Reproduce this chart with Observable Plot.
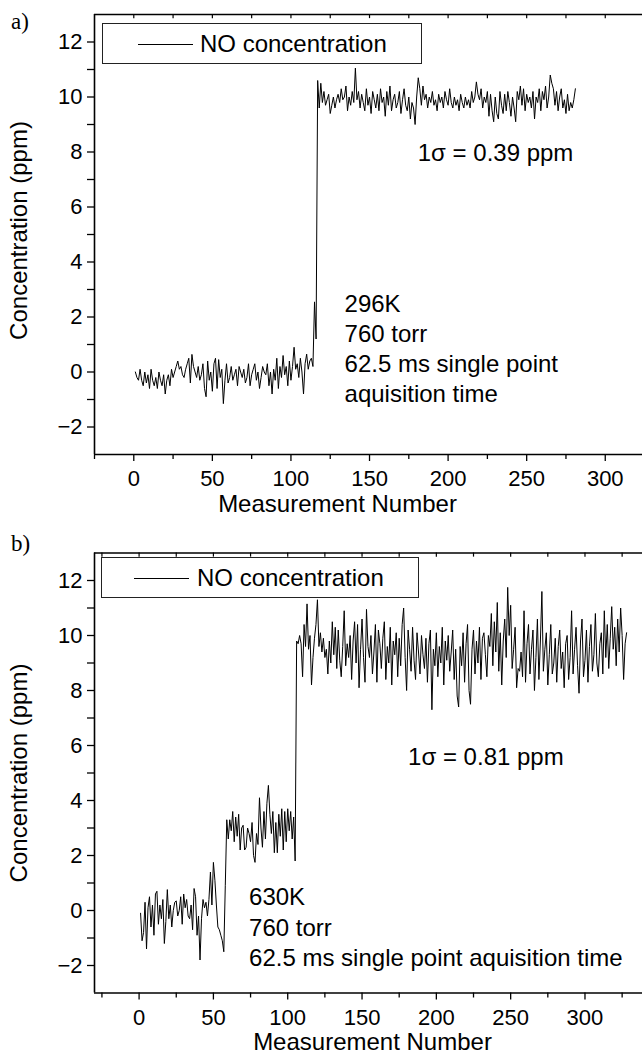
<!DOCTYPE html>
<html><head><meta charset="utf-8">
<script src="https://cdn.jsdelivr.net/npm/d3@7"></script>
<script src="https://cdn.jsdelivr.net/npm/@observablehq/plot@0.6"></script>
<style>
body{margin:0;background:#fff;}
#wrap{position:relative;width:642px;height:1062px;overflow:hidden;font-family:"Liberation Sans",Arial,sans-serif;color:#000;}
.panel{position:absolute;left:0;}
.panel svg{display:block;overflow:visible;}
.tag{position:absolute;font-family:"Liberation Serif","Times New Roman",serif;font-size:23px;line-height:1;}
.legend{position:absolute;border:1px solid #222;box-sizing:border-box;background:#fff;}
.legend .smp{position:absolute;height:0;border-top:1px solid #000;}
.legend .lt{position:absolute;font-size:24px;line-height:1;white-space:nowrap;}
</style></head>
<body>
<div id="wrap">
  <div class="panel" id="pa" style="top:0"></div>
  <div class="panel" id="pb" style="top:520px"></div>
  <div class="tag" style="left:11px;top:10px">a)</div>
  <div class="tag" style="left:11px;top:532px">b)</div>
  <div class="legend" style="left:102px;top:23px;width:320px;height:41px">
    <div class="smp" style="left:35px;top:20px;width:55px"></div>
    <div class="lt" style="left:97px;top:8px">NO concentration</div>
  </div>
  <div class="legend" style="left:101px;top:557px;width:318px;height:41px">
    <div class="smp" style="left:32px;top:20px;width:55px"></div>
    <div class="lt" style="left:95px;top:8px">NO concentration</div>
  </div>
</div>
<script>
// ---- data (NO concentration, ppm, one value per measurement starting at 1) ----
const panelA_values = [
 0.0,-0.2,-0.3,0.1,-0.3,-0.5,0.0,-0.4,-0.1,-0.6,
 0.1,-0.3,-0.5,-0.2,-0.6,0.0,-0.3,-0.5,-0.1,-0.8,
 -0.3,-0.1,-0.5,0.1,-0.2,0.0,0.2,0.4,0.1,0.2,
 -0.1,-0.2,0.1,0.3,0.5,-0.4,0.64,0.2,0.0,-0.2,
 0.2,-0.3,-0.1,0.3,-0.6,-0.9,0.4,-0.3,0.0,-0.7,
 0.3,0.5,-0.6,0.45,-0.2,0.1,-1.15,-0.3,0.3,-0.4,
 -0.2,0.2,-0.3,-0.1,0.1,-0.5,0.2,0.0,-0.2,0.1,
 -0.4,-0.2,0.3,-0.5,-0.1,0.1,0.3,-0.3,0.0,-0.6,
 -0.2,0.2,0.0,-0.1,0.3,-0.5,0.0,-0.8,0.1,-0.3,
 0.5,-0.6,0.2,-0.2,0.6,-0.1,0.2,-0.5,0.4,-0.3,
 0.2,0.9,0.1,0.3,-0.2,0.5,0.0,-0.8,0.3,0.65,
 0.1,0.4,0.5,0.2,2.55,1.2,
 10.6,9.6,10.5,9.8,10.2,9.7,9.9,10.1,9.4,9.7,
 10.0,9.6,9.9,10.1,9.8,10.3,9.9,10.0,10.4,9.5,
 10.0,9.7,10.2,9.8,11.05,9.9,10.2,9.6,10.1,9.8,
 9.5,10.3,9.7,10.0,9.4,10.2,9.9,9.6,10.1,9.5,
 10.3,9.8,10.0,9.3,10.2,9.7,10.4,9.5,9.9,10.1,
 9.6,9.8,10.2,9.4,9.9,10.3,9.7,9.5,10.0,9.2,
 9.8,9.6,9.0,10.0,10.7,10.3,9.7,10.4,9.9,10.1,
 9.6,10.0,9.8,10.2,9.7,9.9,9.5,10.1,9.8,10.0,
 9.6,10.2,9.9,9.7,10.3,9.8,9.6,10.0,9.7,9.9,
 9.5,10.1,9.8,9.6,10.0,9.7,9.9,9.6,10.2,9.8,
 10.0,10.55,10.1,9.9,10.3,9.6,10.0,9.8,10.2,9.3,
 10.1,9.5,9.1,10.0,9.4,9.2,10.2,9.7,9.4,10.1,
 9.5,10.2,9.8,9.3,10.0,9.6,9.1,10.2,9.9,10.4,
 9.7,10.3,9.5,10.1,9.8,10.0,9.6,10.2,9.2,10.0,
 9.8,10.3,9.5,10.2,9.9,10.4,9.6,10.0,10.8,10.5,
 10.3,9.7,10.2,9.5,10.0,10.3,9.6,9.9,9.4,10.1,
 9.5,9.8,9.6,9.9,10.3
];
const panelB_values = [
 -0.1,-1.1,-0.8,0.3,-1.4,0.1,0.5,-0.6,0.2,-0.9,
 0.6,0.7,-0.5,0.2,-0.3,0.4,-1.2,-0.4,0.76,-0.3,
 0.2,-0.6,0.0,0.3,0.35,-0.2,0.0,0.5,-0.5,0.6,
 0.1,0.4,-0.2,-0.3,0.2,-0.7,0.8,0.5,-0.9,-0.2,
 -1.8,-0.3,0.4,0.1,0.3,-0.2,0.4,1.4,0.2,1.75,
 1.1,0.2,-0.6,-0.7,-0.9,-1.1,-1.5,0.9,3.3,
 2.6,3.3,2.9,3.6,2.5,3.4,2.7,3.5,2.2,3.0,
 3.1,2.2,2.3,3.0,2.8,2.5,3.2,2.0,1.75,2.8,
 2.4,4.1,3.0,2.3,3.6,2.6,3.9,4.55,3.5,2.8,
 3.6,2.1,3.2,2.1,3.5,2.7,3.7,2.2,3.6,2.5,
 3.7,2.9,3.6,2.6,3.4,1.8,
 9.8,9.7,10.0,9.7,8.5,10.4,9.6,11.15,9.5,10.0,
 8.2,9.2,9.9,10.4,11.3,9.6,10.1,9.4,9.9,9.2,
 9.5,8.6,9.8,9.0,10.5,9.3,10.3,8.8,10.2,9.1,
 8.5,9.6,10.9,8.9,9.7,9.2,10.0,8.4,9.8,10.5,
 9.0,10.4,8.1,9.5,10.6,9.2,8.3,10.95,9.6,9.2,
 10.0,8.6,9.4,10.4,8.3,10.2,9.7,8.8,9.9,10.5,
 8.4,9.6,9.0,10.3,8.2,9.8,9.3,10.1,8.5,9.9,
 8.9,10.4,11.0,9.2,8.0,10.2,9.5,8.7,10.3,9.1,
 8.4,10.1,9.4,8.6,10.0,9.3,8.8,9.9,8.3,9.7,
 10.2,7.3,9.5,8.9,10.1,8.5,9.6,9.0,10.3,8.2,
 9.8,9.1,10.0,8.7,9.4,10.2,8.4,9.5,7.8,7.4,
 9.6,8.9,10.1,8.3,9.7,10.4,8.0,7.5,9.5,10.2,
 8.6,9.8,9.0,10.3,8.4,9.9,10.1,9.3,8.5,10.0,
 9.6,10.8,8.9,10.5,9.4,11.2,8.7,10.1,8.2,9.8,
 10.6,9.2,11.75,10.0,11.1,8.8,9.5,10.3,8.1,8.8,
 8.7,9.4,8.5,10.9,8.3,9.7,10.4,8.6,9.5,10.2,
 8.0,9.2,10.6,8.4,9.8,11.6,8.7,9.5,10.1,8.2,
 9.3,10.4,8.6,9.0,9.9,8.3,9.6,10.2,8.8,9.4,
 8.1,9.7,10.0,8.4,9.2,10.9,8.6,9.5,10.3,8.9,
 7.9,9.8,10.6,8.5,9.1,10.2,8.3,9.6,10.4,8.7,
 9.3,10.8,9.0,8.5,9.7,10.1,8.6,10.9,9.2,10.4,
 8.8,9.9,11.05,9.5,10.3,8.9,10.6,9.4,11.0,10.0,
 8.4,9.7,10.1
];
const xTickLabels = [0, 50, 100, 150, 200, 250, 300];
const yTickLabels = [-2, 0, 2, 4, 6, 8, 10, 12];
const xTitle = "Measurement Number";
const yTitle = "Concentration (ppm)";
const annA = ["1σ = 0.39 ppm", "296K\n760 torr\n62.5 ms single point\naquisition time"];
const annB = ["1σ = 0.81 ppm", "630K\n760 torr\n62.5 ms single point aquisition time"];

// ---- drawing ----
function panel(values, opt) {
  const data = values.map((v, i) => ({n: i + 1, c: v}));
  const [x0, x1] = opt.xDomain, [y0, y1] = opt.yDomain;
  const minorX = d3.range(-25, 400, 50).filter(d => d >= x0 && d <= x1);
  const topTicks = d3.range(-25, 400, 25).filter(d => d > x0 && d <= x1);
  const minorY = d3.range(-1, 13, 2);
  const F = '"Liberation Sans", Arial, sans-serif';
  return Plot.plot({
    width: 642, height: opt.height,
    marginLeft: 94, marginRight: 0, marginTop: opt.mt, marginBottom: opt.mb,
    style: {fontFamily: F, background: "#fff", overflow: "visible"},
    x: {domain: opt.xDomain},
    y: {domain: opt.yDomain},
    marks: [
      Plot.axisX({ticks: xTickLabels, tickSize: 7, tickPadding: 9, fontSize: 22, label: null, stroke: "#000", strokeWidth: 1.3, fill: "#000"}),
      Plot.axisX({ticks: minorX, tickSize: 5, text: null, label: null, strokeWidth: 1.3}),
      Plot.axisY({ticks: yTickLabels, tickSize: 7, tickPadding: 5, fontSize: 22, label: null, strokeWidth: 1.3, fill: "#000"}),
      Plot.axisY({ticks: minorY, tickSize: 7, text: null, label: null, strokeWidth: 1.3}),
      Plot.ruleX(topTicks, {x: d => d, y1: y1, y2: y1 - 0.15, strokeWidth: 1.2}),
      Plot.ruleX([x0], {strokeWidth: 1.6}),
      Plot.ruleY([y0], {strokeWidth: 1.6}),
      Plot.ruleY([y1], {strokeWidth: 1.6}),
      Plot.line(data, {x: "n", y: "c", stroke: "#000", strokeWidth: 1}),
      Plot.text([opt.ann[0]], {x: opt.sx, y: opt.sy, text: d => d, textAnchor: "start", fontSize: 24, fill: "#000"}),
      Plot.text([opt.ann[1]], {x: opt.cx, y: opt.cy, text: d => d, textAnchor: "start", fontSize: 24, lineHeight: opt.lh, fill: "#000"}),
      Plot.text([xTitle], {frameAnchor: "bottom-left", dx: opt.titleX - 94, dy: 57, text: d => d, textAnchor: "middle", fontSize: 24, fill: "#000"}),
      Plot.text([yTitle], {frameAnchor: "left", dx: -75, dy: opt.ytDy, rotate: -90, text: d => d, textAnchor: "middle", fontSize: 24, fill: "#000"})
    ]
  });
}

document.getElementById("pa").append(panel(panelA_values, {
  height: 520, mt: 14, mb: 66,
  xDomain: [-25, 323.7], yDomain: [-3, 13],
  ann: annA, sx: 180.7, sy: 7.94, cx: 134.1, cy: 0.91, lh: 1.25,
  titleX: 337, ytDy: -4
}));
document.getElementById("pb").append(panel(panelB_values, {
  height: 542, mt: 32.5, mb: 69.5,
  xDomain: [-30, 338.7], yDomain: [-3, 13],
  ann: annB, sx: 181, sy: 5.57, cx: 74, cy: -0.56, lh: 1.27,
  titleX: 372, ytDy: 0
}));
</script>
</body></html>
